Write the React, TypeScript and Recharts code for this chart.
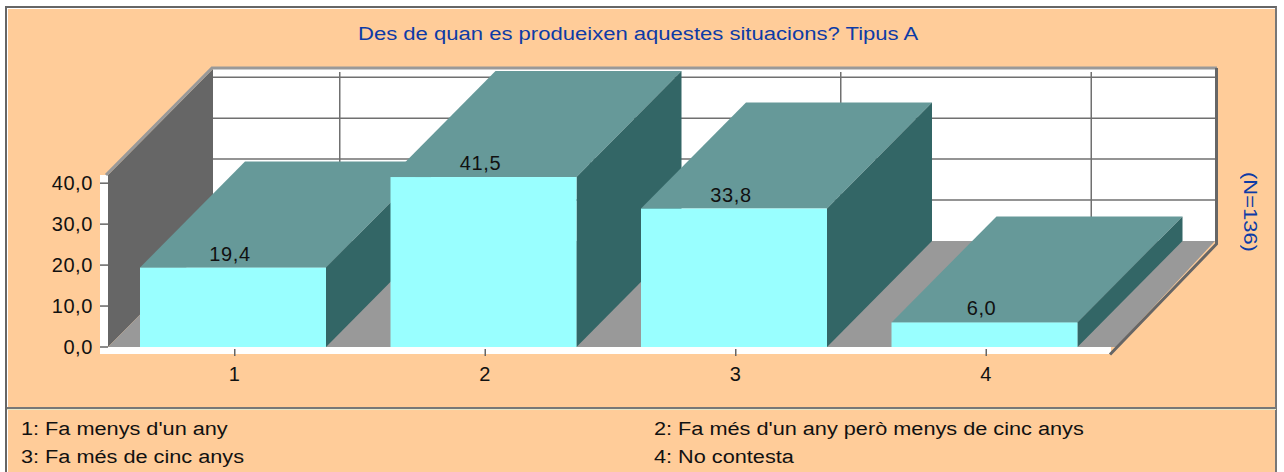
import { Bar, BarChart, LabelList, XAxis, YAxis, usePlotArea } from "recharts";

const categories = ["1", "2", "3", "4"];
const values = [19.4, 41.5, 33.8, 6.0];
const yTicks = [0, 10, 20, 30, 40];
const legendLabels = [
  "1: Fa menys d'un any",
  "2: Fa més d'un any però menys de cinc anys",
  "3: Fa més de cinc anys",
  "4: No contesta",
];

const data = categories.map((name, i) => ({ name, value: values[i] }));

const Y_MAX = 42;
const DX = 105;
const DY = 106;
const FONT = "'Liberation Sans', Arial, sans-serif";
const BG = "#ffcc99";
const BLUE = "#0d3ba6";

const comma = (v: number) => v.toFixed(1).replace(".", ",");

// back wall, side wall and floor, behind the bars
function Walls() {
  const plot = usePlotArea();
  if (!plot) return null;
  const { x, y, width, height } = plot;
  const left = x;
  const right = x + width;
  const bottom = y + height;
  const band = width / categories.length;
  return (
    <g>
      <rect x={left + DX} y={y - DY} width={width} height={height} fill="#fff" />
      {yTicks.slice(1).map((t) => {
        const gy = bottom - (t / Y_MAX) * height - DY;
        return <line key={t} x1={left + DX} x2={right + DX} y1={gy} y2={gy} stroke="#707070" strokeWidth={1.5} />;
      })}
      {categories.map((c, i) => {
        const gx = left + band * (i + 0.5) + DX + 1.5;
        return <line key={c} x1={gx} x2={gx} y1={y - DY + 3} y2={bottom - DY} stroke="#707070" strokeWidth={1.5} />;
      })}
      <polygon
        points={`${left},${y} ${left + DX},${y - DY} ${left + DX},${bottom - DY} ${left},${bottom}`}
        fill="#666"
      />
      <polygon
        points={`${left},${bottom} ${right + 6},${bottom} ${right + DX},${bottom - DY} ${left + DX},${bottom - DY}`}
        fill="#999"
      />
      <rect x={left - 8} y={y} width={8} height={height + 7} fill="#fff" />
      <rect x={left - 8} y={bottom} width={width + 9} height={7} fill="#fff" />
      <polyline
        points={`${left - 2},${y} ${left + DX - 1},${y - DY - 1} ${right + DX + 2},${y - DY - 1}`}
        fill="none"
        stroke="#999"
        strokeWidth={3}
      />
      <polyline
        points={`${right + DX + 1.5},${y - DY - 1} ${right + DX + 1.5},${bottom - DY + 3} ${right},${bottom + 7.5}`}
        fill="none"
        stroke="#666"
        strokeWidth={3}
      />
    </g>
  );
}

function Prism(props: any) {
  const { x, y, width, height } = props;
  const r = x + width;
  const b = y + height;
  return (
    <g>
      <polygon points={`${x},${y} ${r},${y} ${r + DX},${y - DY} ${x + DX},${y - DY}`} fill="#669999" />
      <polygon points={`${r},${y} ${r + DX},${y - DY} ${r + DX},${b - DY} ${r},${b}`} fill="#336666" />
      <rect x={x} y={y} width={width} height={height} fill="#99ffff" />
    </g>
  );
}

// the original's category ticks sit a little right of the bar centres
function CategoryTick(props: any) {
  const { x, y, payload } = props;
  return (
    <g>
      <line x1={x + 1.5} x2={x + 1.5} y1={y} y2={y + 7} stroke="#666" strokeWidth={1.5} />
      <text x={x + 1} y={y + 32} textAnchor="middle" fill="#111" fontSize={20} fontFamily={FONT}>
        {payload.value}
      </text>
    </g>
  );
}

const stretched = (sx: number) => ({ transform: `scaleX(${sx})`, transformOrigin: "left top" });

export default function App() {
  return (
    <div style={{ position: "absolute", left: 0, top: 0, width: 1284, height: 472, overflow: "hidden", background: "#fff", fontFamily: FONT }}>
      <div style={{ position: "absolute", left: 5, top: 6, width: 1272, height: 470, background: BG, borderTop: "2px solid #666", borderLeft: "2px solid #666", borderRight: "2px solid #777", boxSizing: "border-box", boxShadow: "inset 0 1px 0 #fff, inset 1px 0 0 #fff" }} />
      <div style={{ position: "absolute", left: 7, top: 407, width: 1269, height: 2, background: "#777", borderBottom: "1px solid #e8e8c8" }} />
      <BarChart
        width={1284}
        height={472}
        data={data}
        margin={{ top: 175, right: 174, bottom: 95, left: 48 }}
        style={{ position: "absolute", left: 0, top: 0 }}
      >
        <Walls />
        <XAxis dataKey="name" height={30} axisLine={false} tickLine={false} tickSize={0} tick={<CategoryTick />} />
        <YAxis
          width={60}
          domain={[0, Y_MAX]}
          ticks={yTicks}
          interval={0}
          tickFormatter={comma}
          axisLine={false}
          tickLine={{ stroke: "#666", strokeWidth: 1.5 }}
          tickSize={8}
          tickMargin={7}
          tick={{ fill: "#111", fontSize: 20, fontFamily: FONT, letterSpacing: 0.6 }}
        />
        <Bar dataKey="value" barSize={186} shape={Prism} isAnimationActive={false}>
          <LabelList
            dataKey="value"
            position="top"
            offset={7}
            dx={-3}
            formatter={comma}
            fill="#111"
            fontSize={20}
            fontFamily={FONT}
            letterSpacing={0.6}
          />
        </Bar>
      </BarChart>
      <div style={{ position: "absolute", left: 358, top: 24, color: BLUE, fontSize: 18, whiteSpace: "nowrap", ...stretched(1.225) }}>
        Des de quan es produeixen aquestes situacions? Tipus A
      </div>
      <div style={{ position: "absolute", left: 1239, top: 172, color: BLUE, fontSize: 19, whiteSpace: "nowrap", writingMode: "vertical-rl", transform: "scaleY(1.155)", transformOrigin: "left top" }}>
        (N=136)
      </div>
      {legendLabels.map((label, i) => (
        <div
          key={label}
          style={{ position: "absolute", left: i % 2 ? 654 : 21, top: i < 2 ? 419 : 447, color: "#111", fontSize: 18, whiteSpace: "nowrap", ...stretched(1.205) }}
        >
          {label}
        </div>
      ))}
    </div>
  );
}
